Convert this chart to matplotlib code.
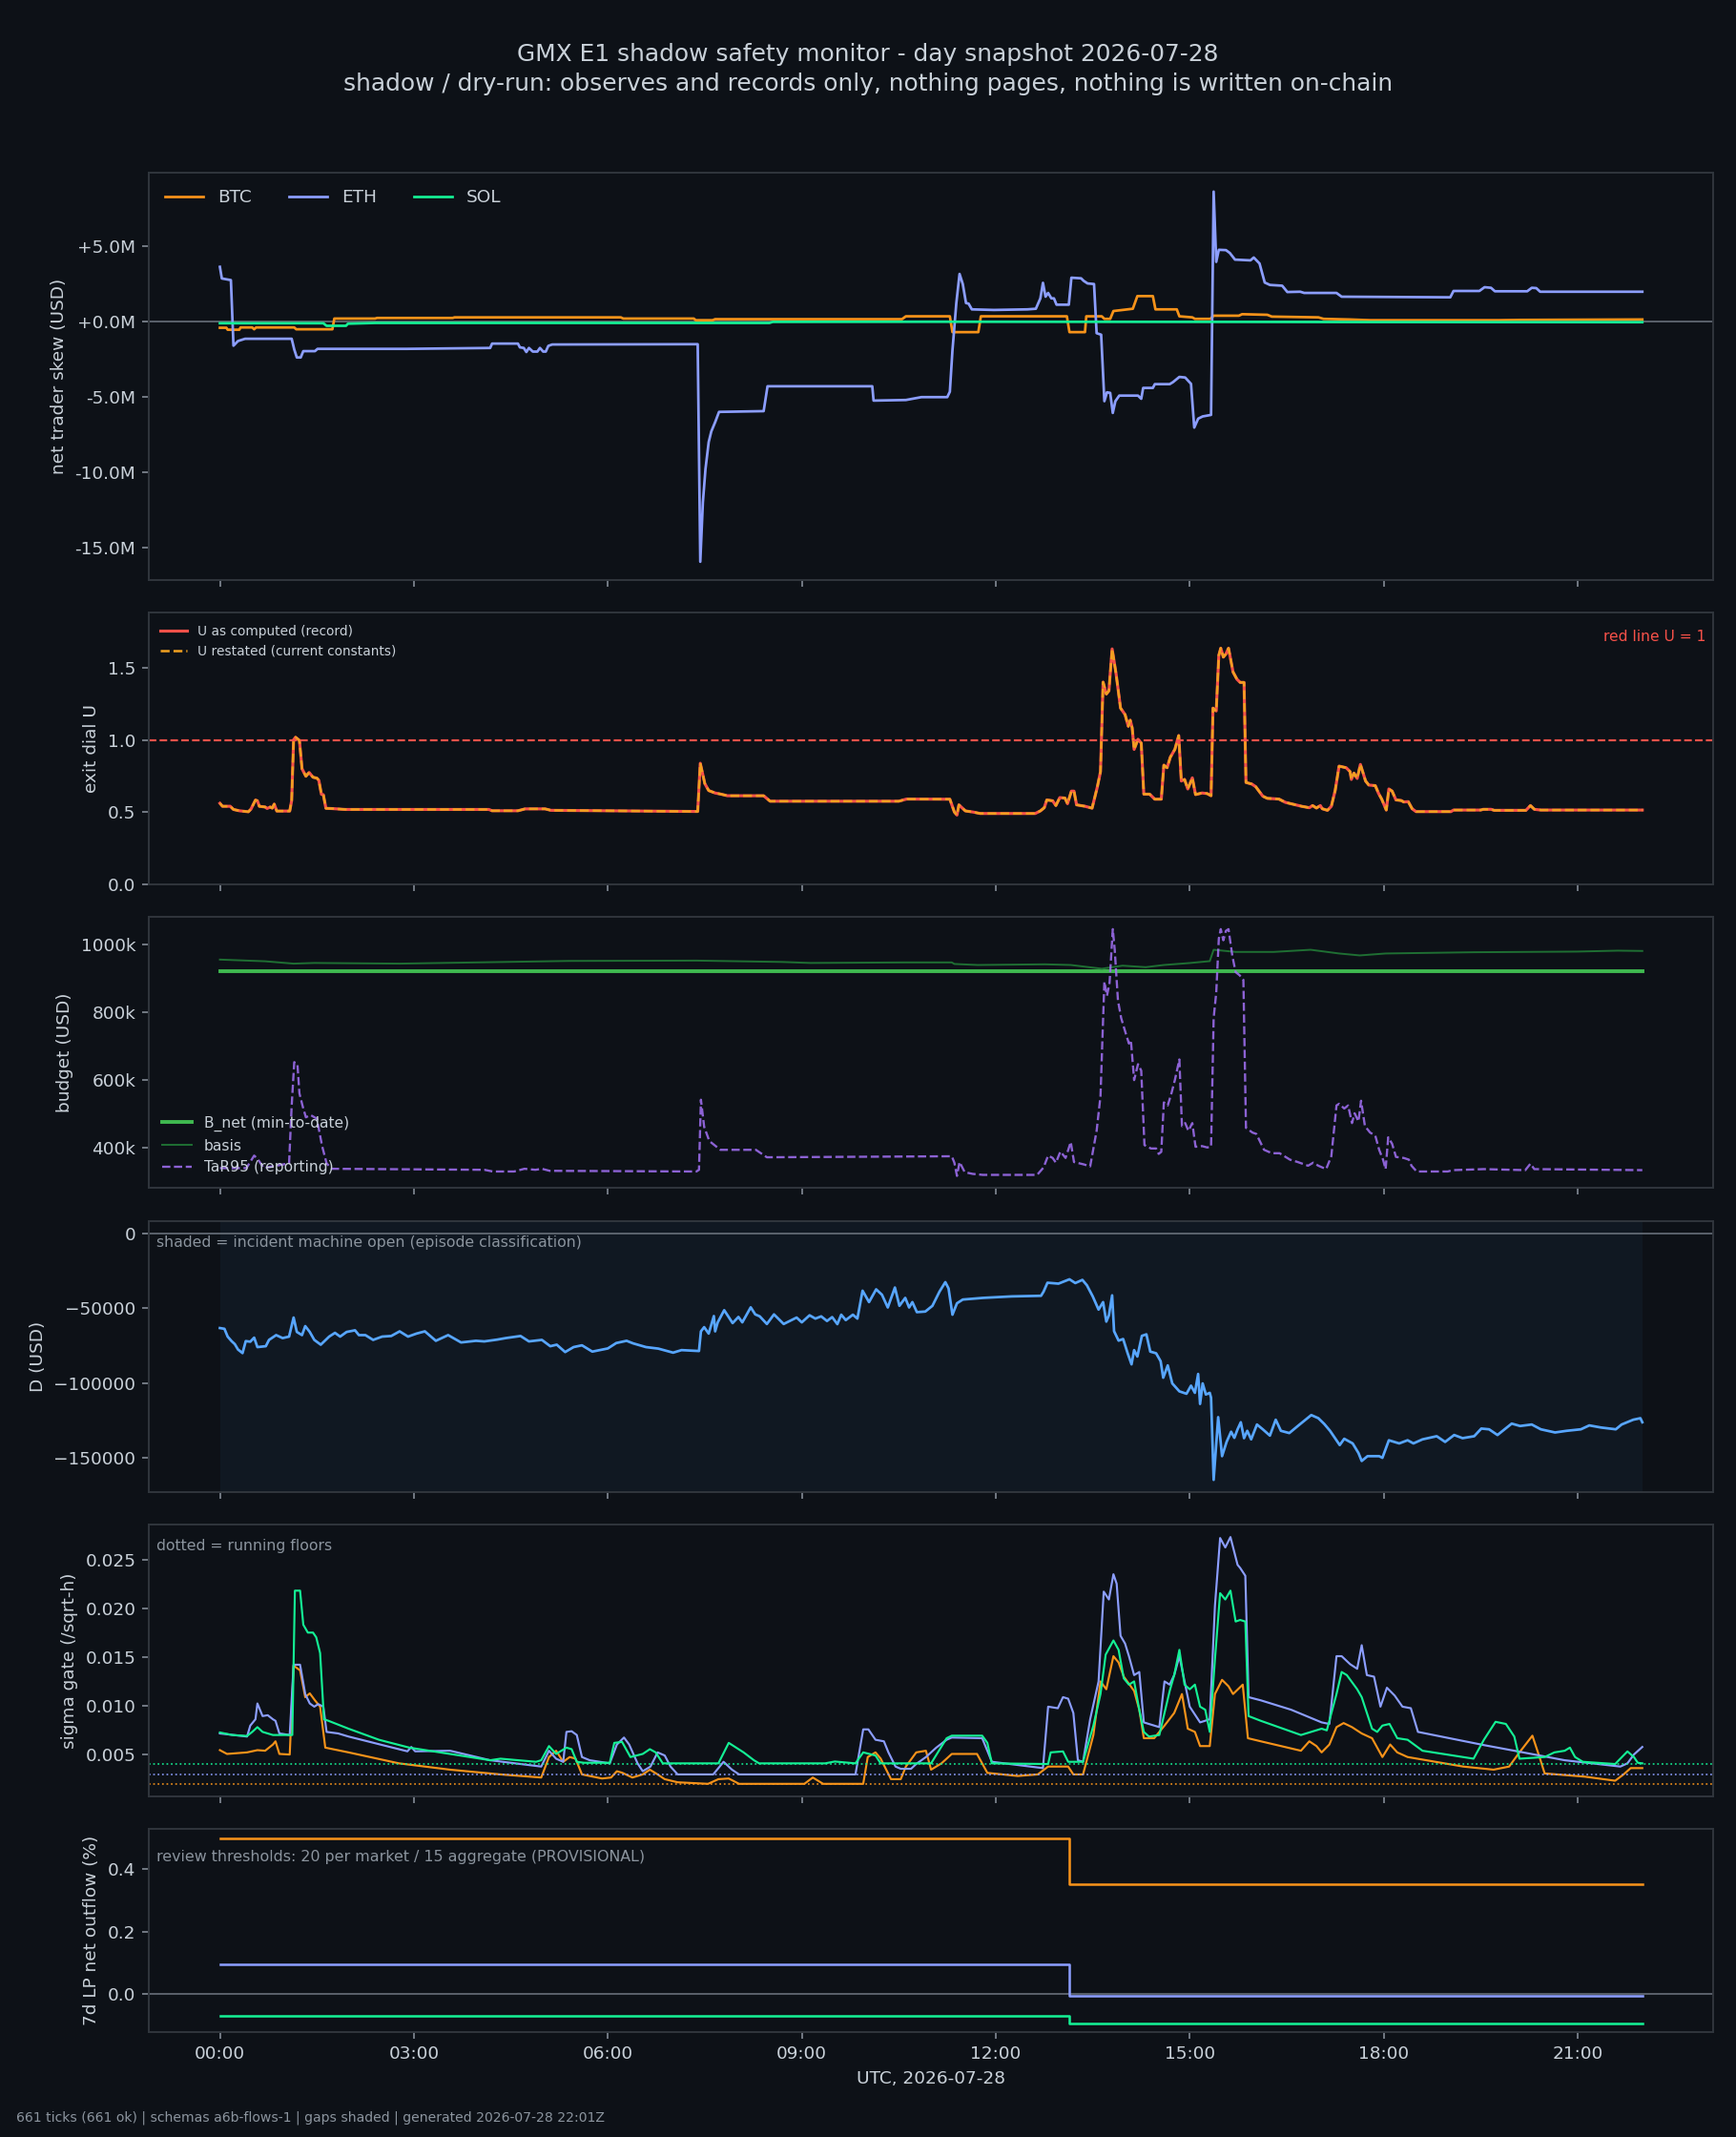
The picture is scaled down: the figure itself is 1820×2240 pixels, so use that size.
import matplotlib
matplotlib.use("Agg")
import matplotlib.pyplot as plt
from matplotlib.ticker import FuncFormatter, MultipleLocator

# colours
BG = "#0d1117"
EDGE = "#30363d"
TXT = "#c9d1d9"
MUTED = "#8b949e"
C_BTC = "#f7931a"
C_ETH = "#8c9eff"
C_SOL = "#14f195"

# ---- data (hours UTC, value) read off the snapshot ----
# panel 1: net trader skew, USD millions
SKEW_BTC = [(0.0,-0.42),(0.10,-0.42),(0.12,-0.55),(0.30,-0.55),(0.32,-0.40),(0.50,-0.40),(0.53,-0.52),
            (0.56,-0.40),(1.15,-0.40),(1.18,-0.52),(1.74,-0.52),(1.77,0.19),(2.40,0.19),(2.43,0.23),
            (3.60,0.23),(3.63,0.27),(6.20,0.27),(6.24,0.19),(7.33,0.19),(7.36,0.08),(7.62,0.08),
            (7.66,0.15),(10.55,0.15),(10.61,0.34),(11.29,0.34),(11.33,-0.71),(11.73,-0.71),(11.77,0.34),
            (13.10,0.34),(13.14,-0.71),(13.38,-0.71),(13.40,0.34),(13.64,0.34),(13.68,0.17),(13.77,0.17),
            (13.82,0.69),(14.12,0.84),(14.19,1.68),(14.43,1.68),(14.47,0.80),(14.80,0.80),(14.84,0.34),
            (15.04,0.27),(15.08,0.17),(15.32,0.17),(15.37,0.38),(15.76,0.38),(15.81,0.48),(16.20,0.44),
            (16.27,0.32),(16.99,0.27),(17.07,0.17),(17.47,0.13),(17.79,0.08),(19.78,0.08),(20.10,0.10),
            (22.0,0.13)]
SKEW_ETH = [(0.00,3.62),(0.03,2.85),(0.17,2.74),(0.21,-1.61),(0.28,-1.30),(0.39,-1.15),(1.11,-1.15),
            (1.15,-1.86),(1.19,-2.39),(1.25,-2.39),(1.29,-1.97),(1.47,-1.97),(1.51,-1.82),(2.89,-1.82),
            (4.18,-1.76),(4.21,-1.47),(4.61,-1.47),(4.64,-1.72),(4.70,-1.76),(4.74,-2.03),(4.78,-1.76),
            (4.84,-2.00),(4.91,-2.00),(4.95,-1.76),(5.00,-2.00),(5.04,-2.00),(5.08,-1.62),(5.14,-1.53),
            (7.39,-1.51),(7.43,-15.94),(7.47,-12.0),(7.51,-9.8),(7.56,-8.0),(7.60,-7.3),(7.66,-6.68),
            (7.72,-6.0),(8.41,-5.95),(8.47,-4.3),(10.09,-4.3),(10.11,-5.25),(10.61,-5.21),(10.85,-5.02),
            (11.25,-5.02),(11.29,-4.66),(11.33,-1.93),(11.39,1.22),(11.44,3.15),(11.49,2.48),(11.54,1.22),
            (11.58,1.18),(11.63,0.80),(11.97,0.76),(12.49,0.80),(12.62,0.84),(12.69,1.53),(12.73,2.56),
            (12.77,1.64),(12.81,1.89),(12.86,1.53),(12.90,1.53),(12.94,1.11),(13.13,1.11),(13.17,2.90),
            (13.32,2.86),(13.36,2.69),(13.42,2.52),(13.52,2.48),(13.56,-0.78),(13.63,-0.88),(13.68,-5.29),
            (13.72,-4.70),(13.77,-4.74),(13.81,-6.07),(13.85,-5.29),(13.91,-4.92),(14.20,-4.92),
            (14.25,-5.13),(14.28,-4.41),(14.43,-4.41),(14.46,-4.16),(14.69,-4.16),(14.74,-4.03),
            (14.84,-3.68),(14.93,-3.72),(15.02,-4.14),(15.07,-7.04),(15.13,-6.45),(15.20,-6.30),
            (15.33,-6.20),(15.37,8.61),(15.41,3.95),(15.45,4.75),(15.56,4.73),(15.62,4.54),(15.70,4.10),
            (15.94,4.05),(15.99,4.24),(16.08,3.84),(16.16,2.58),(16.24,2.42),(16.43,2.37),(16.51,1.95),
            (16.71,1.97),(16.77,1.89),(17.27,1.89),(17.35,1.64),(19.03,1.60),(19.08,2.02),(19.48,2.02),
            (19.56,2.27),(19.66,2.23),(19.72,2.00),(20.22,2.00),(20.29,2.23),(20.36,2.21),(20.42,1.97),
            (22.0,1.97)]
SKEW_SOL = [(0.0,-0.12),(1.60,-0.12),(1.65,-0.29),(1.95,-0.29),(1.98,-0.15),(2.40,-0.10),(8.50,-0.10),
            (8.55,-0.03),(11.0,-0.02),(15.8,-0.03),(17.5,-0.04),(22.0,-0.05)]

# panel 2: exit dial U (record and restated coincide on this day)
U_DIAL = [(0.00,0.561),(0.04,0.540),(0.16,0.540),(0.21,0.518),(0.30,0.509),(0.44,0.502),(0.48,0.520),
          (0.55,0.583),(0.58,0.578),(0.61,0.540),(0.70,0.535),(0.73,0.525),(0.78,0.535),(0.81,0.527),
          (0.84,0.555),(0.88,0.507),(1.08,0.507),(1.11,0.580),(1.14,1.000),(1.17,1.018),(1.23,0.996),
          (1.27,0.800),(1.33,0.748),(1.38,0.774),(1.44,0.741),(1.50,0.735),(1.53,0.720),(1.57,0.623),
          (1.60,0.620),(1.64,0.526),(1.74,0.524),(1.94,0.518),(4.16,0.518),(4.21,0.509),(4.61,0.509),
          (4.72,0.522),(5.03,0.522),(5.12,0.512),(7.39,0.504),(7.43,0.838),(7.50,0.697),(7.56,0.649),
          (7.66,0.632),(7.74,0.625),(7.85,0.613),(8.41,0.613),(8.51,0.575),(10.50,0.575),(10.62,0.590),
          (11.29,0.589),(11.36,0.500),(11.40,0.479),(11.43,0.550),(11.53,0.508),(11.65,0.500),
          (11.76,0.490),(12.61,0.490),(12.69,0.508),(12.75,0.530),(12.79,0.584),(12.88,0.578),
          (12.93,0.545),(12.99,0.600),(13.07,0.597),(13.11,0.558),(13.17,0.645),(13.21,0.645),
          (13.25,0.550),(13.38,0.540),(13.49,0.527),(13.57,0.672),(13.62,0.780),(13.66,1.400),
          (13.71,1.317),(13.75,1.340),(13.80,1.630),(13.86,1.460),(13.93,1.220),(14.00,1.175),
          (14.05,1.094),(14.08,1.136),(14.11,1.083),(14.14,0.934),(14.20,1.004),(14.25,0.978),
          (14.29,0.624),(14.38,0.624),(14.46,0.589),(14.56,0.589),(14.60,0.825),(14.65,0.807),
          (14.70,0.880),(14.77,0.934),(14.83,1.030),(14.87,0.715),(14.92,0.726),(14.97,0.660),
          (15.04,0.737),(15.09,0.621),(15.19,0.632),(15.27,0.628),(15.33,0.613),(15.36,1.220),
          (15.41,1.200),(15.45,1.586),(15.48,1.635),(15.52,1.573),(15.56,1.595),(15.60,1.635),
          (15.67,1.470),(15.73,1.420),(15.78,1.398),(15.84,1.398),(15.87,0.705),(15.96,0.694),
          (16.02,0.676),(16.13,0.610),(16.20,0.595),(16.38,0.590),(16.48,0.567),(16.73,0.540),
          (16.85,0.530),(16.90,0.545),(16.96,0.528),(17.02,0.545),(17.05,0.523),(17.13,0.512),
          (17.19,0.540),(17.25,0.650),(17.31,0.818),(17.42,0.807),(17.48,0.780),(17.50,0.726),
          (17.54,0.770),(17.59,0.733),(17.64,0.830),(17.72,0.715),(17.77,0.687),(17.87,0.683),
          (17.92,0.630),(17.97,0.589),(18.04,0.514),(18.08,0.660),(18.13,0.645),(18.19,0.584),
          (18.27,0.580),(18.31,0.570),(18.38,0.572),(18.44,0.523),(18.50,0.503),(19.04,0.503),
          (19.08,0.514),(19.50,0.514),(19.54,0.519),(19.66,0.519),(19.71,0.512),(20.20,0.512),
          (20.27,0.545),(20.33,0.519),(20.43,0.514),(22.00,0.514)]
U_RED_LINE = 1.0

# panel 3: budget, USD thousands
B_NET = [(0.0,921.5),(22.0,921.5)]
BASIS = [(0.0,956),(0.7,951),(1.14,944),(1.46,946),(2.78,944),(4.09,948),(5.40,952),(7.37,953),
         (8.69,949),(9.13,946),(10.6,947.6),(11.32,947.6),(11.36,943),(11.72,940),(12.76,942),
         (13.16,940),(13.64,929),(13.96,938),(14.32,933.6),(14.60,940),(15.0,945.8),(15.31,951.4),
         (15.37,985),(15.71,978.6),(16.30,978.6),(16.87,985),(17.31,974),(17.63,968.3),(18.03,974),
         (19.39,977.7),(20.99,979.6),(21.62,982.4),(22.0,981.5)]
TAR95 = [(0.0,340),(0.41,340),(0.53,377),(0.58,368),(0.68,340),(0.81,345),(1.07,354),(1.11,523),
         (1.15,653),(1.20,645),(1.23,561),(1.28,523),(1.33,490),(1.40,497),(1.50,486),(1.58,406),
         (1.65,354),(1.73,338),(4.09,335),(4.22,330),(4.55,330),(4.71,338),(4.88,335),(4.98,338),
         (5.10,332),(7.37,330),(7.41,335),(7.44,542),(7.49,462),(7.57,420),(7.74,394),(8.29,394),
         (8.46,372),(11.32,375),(11.36,356),(11.40,317),(11.44,358),(11.52,328),(11.64,323),
         (11.80,320),(12.64,320),(12.74,342),(12.81,377),(12.88,370),(12.93,356),(13.00,389),
         (13.08,370),(13.16,417),(13.21,358),(13.36,351),(13.46,345),(13.56,450),(13.62,553),
         (13.68,891),(13.72,849),(13.76,887),(13.81,1046),(13.84,985),(13.89,835),(13.94,783),
         (14.02,732),(14.06,708),(14.09,718),(14.14,600),(14.20,647),(14.25,628),(14.30,408),
         (14.40,398),(14.48,398),(14.52,382),(14.56,388),(14.60,534),(14.66,525),(14.72,563),
         (14.77,600),(14.84,661),(14.88,464),(14.93,473),(14.98,450),(15.04,473),(15.09,403),
         (15.19,405),(15.27,401),(15.33,403),(15.37,783),(15.41,858),(15.45,1018),(15.48,1046),
         (15.52,1013),(15.56,1041),(15.60,1046),(15.66,966),(15.71,919),(15.77,910),(15.83,896),
         (15.87,459),(15.97,445),(16.03,441),(16.15,394),(16.27,384),(16.39,384),(16.55,365),
         (16.67,358),(16.83,347),(16.91,356),(16.99,347),(17.11,337),(17.19,375),(17.27,525),
         (17.31,530),(17.39,516),(17.45,525),(17.51,473),(17.55,502),(17.61,478),(17.65,539),
         (17.71,464),(17.79,445),(17.87,436),(17.93,394),(17.99,365),(18.03,337),(18.07,431),
         (18.13,412),(18.19,373),(18.31,370),(18.39,365),(18.43,347),(18.51,330),(18.99,330),
         (19.07,334),(19.55,337),(20.19,334),(20.27,353),(20.33,337),(22.0,334)]

# panel 4: D, USD thousands
D_USD = [(0.00,-63.3),(0.07,-63.8),(0.12,-69.0),(0.18,-72.0),(0.23,-74.0),(0.28,-77.6),(0.35,-80.0),
         (0.40,-72.0),(0.47,-72.4),(0.53,-69.7),(0.58,-76.0),(0.71,-75.4),(0.76,-71.2),(0.87,-68.0),
         (0.97,-70.0),(1.07,-69.0),(1.14,-56.3),(1.19,-65.9),(1.27,-68.0),(1.32,-62.0),(1.39,-65.9),
         (1.46,-71.2),(1.56,-74.4),(1.69,-69.0),(1.78,-66.5),(1.86,-69.0),(1.96,-65.9),(2.09,-64.8),
         (2.15,-68.0),(2.25,-68.0),(2.37,-71.2),(2.51,-69.0),(2.65,-68.6),(2.78,-65.5),(2.91,-69.0),
         (3.04,-67.0),(3.17,-65.5),(3.34,-71.8),(3.43,-70.0),(3.53,-68.0),(3.73,-72.9),(3.96,-71.8),
         (4.09,-72.2),(4.29,-71.0),(4.42,-70.0),(4.65,-68.6),(4.78,-72.2),(4.98,-71.2),(5.11,-75.4),
         (5.21,-74.4),(5.34,-79.3),(5.47,-76.0),(5.60,-74.8),(5.76,-79.0),(6.00,-76.9),(6.13,-73.3),
         (6.29,-71.8),(6.39,-73.5),(6.59,-76.0),(6.78,-77.0),(7.01,-79.7),(7.14,-78.0),(7.41,-78.6),
         (7.44,-65.5),(7.49,-62.7),(7.56,-67.0),(7.64,-55.3),(7.66,-65.5),(7.70,-59.5),(7.80,-51.4),
         (7.93,-60.0),(8.02,-55.9),(8.08,-59.5),(8.21,-49.5),(8.28,-54.2),(8.35,-55.5),(8.46,-60.6),
         (8.57,-54.2),(8.72,-60.6),(8.92,-56.3),(9.00,-59.5),(9.12,-54.8),(9.21,-57.0),(9.30,-55.5),
         (9.39,-58.6),(9.47,-56.0),(9.55,-60.7),(9.61,-54.4),(9.68,-58.0),(9.79,-54.4),(9.86,-57.0),
         (9.94,-38.4),(10.04,-46.0),(10.15,-37.5),(10.24,-41.1),(10.33,-49.6),(10.44,-36.3),
         (10.51,-48.5),(10.60,-43.2),(10.66,-49.6),(10.71,-46.0),(10.78,-52.7),(10.91,-52.3),
         (11.02,-48.5),(11.13,-39.0),(11.22,-32.7),(11.27,-36.9),(11.33,-54.4),(11.40,-46.8),
         (11.49,-44.3),(11.80,-43.2),(12.25,-42.2),(12.70,-41.8),(12.74,-39.0),(12.80,-33.1),
         (12.97,-33.7),(13.14,-30.8),(13.23,-33.3),(13.34,-31.2),(13.41,-34.8),(13.50,-42.2),
         (13.59,-51.0),(13.66,-46.0),(13.71,-59.0),(13.75,-54.8),(13.80,-41.5),(13.83,-65.4),
         (13.90,-71.7),(13.97,-70.6),(14.04,-80.1),(14.10,-87.5),(14.14,-78.0),(14.19,-82.3),
         (14.26,-68.5),(14.33,-67.5),(14.39,-79.0),(14.48,-80.1),(14.55,-85.4),(14.59,-96.4),
         (14.66,-88.2),(14.73,-100.2),(14.84,-105.5),(14.95,-107.1),(15.02,-101.7),(15.08,-106.5),
         (15.13,-93.9),(15.16,-113.9),(15.20,-100.2),(15.25,-107.6),(15.31,-106.5),(15.33,-109.7),
         (15.37,-164.5),(15.44,-122.7),(15.50,-148.7),(15.57,-139.2),(15.64,-132.4),(15.69,-136.5),
         (15.74,-130.8),(15.79,-126.1),(15.84,-136.7),(15.89,-131.8),(15.95,-137.5),(16.04,-127.6),
         (16.13,-130.8),(16.24,-135.0),(16.33,-124.4),(16.41,-131.8),(16.54,-133.3),(16.70,-127.6),
         (16.88,-121.3),(16.99,-123.4),(17.08,-127.2),(17.17,-131.8),(17.32,-141.3),(17.39,-137.1),
         (17.52,-140.2),(17.61,-146.6),(17.66,-151.9),(17.75,-148.7),(17.93,-148.7),(17.98,-149.8),
         (18.08,-138.1),(18.24,-140.2),(18.37,-138.1),(18.46,-140.2),(18.60,-137.5),(18.82,-135.4),
         (18.95,-139.2),(19.09,-134.6),(19.22,-136.7),(19.40,-135.4),(19.51,-130.3),(19.63,-130.8),
         (19.76,-134.6),(19.98,-127.0),(20.11,-128.6),(20.29,-127.6),(20.43,-130.8),(20.65,-132.9),
         (20.83,-131.8),(21.05,-130.8),(21.18,-128.2),(21.36,-129.6),(21.59,-130.8),(21.68,-127.6),
         (21.86,-124.4),(21.97,-123.4),(22.00,-126.1)]
INCIDENT_OPEN = (0.0, 22.0)

# panel 5: sigma gate, per sqrt-h, in thousandths
SIG_BTC = [(0.0,5.42),(0.11,5.03),(0.42,5.19),(0.58,5.42),(0.70,5.36),(0.82,6.00),(0.86,6.33),(0.92,5.03),
           (1.08,4.97),(1.14,14.12),(1.24,13.64),(1.32,10.88),(1.39,11.27),(1.47,10.55),(1.55,9.90),
           (1.63,5.68),(1.99,5.19),(2.77,4.06),(3.56,3.41),(4.34,2.92),(4.97,2.60),(5.09,4.71),
           (5.20,5.36),(5.31,4.22),(5.41,4.71),(5.50,4.55),(5.60,2.92),(5.91,2.50),(6.05,2.60),
           (6.14,3.25),(6.22,3.10),(6.38,2.60),(6.54,2.92),(6.65,3.41),(6.77,2.92),(6.88,2.43),
           (7.08,2.11),(7.55,1.95),(7.71,2.43),(7.87,2.50),(8.03,1.95),(9.04,1.95),(9.17,2.60),
           (9.33,1.95),(9.95,1.95),(10.02,4.71),(10.14,5.19),(10.22,4.55),(10.38,2.43),(10.53,2.43),
           (10.61,3.73),(10.77,5.19),(10.92,5.36),(11.00,3.41),(11.16,4.06),(11.32,5.03),(11.71,5.03),
           (11.87,3.08),(12.34,2.76),(12.65,2.92),(12.81,3.73),(13.12,3.73),(13.20,2.92),(13.35,2.92),
           (13.51,6.98),(13.62,12.50),(13.71,11.69),(13.82,15.10),(13.90,14.45),(13.98,12.99),
           (14.14,11.52),(14.22,9.58),(14.29,6.65),(14.45,6.65),(14.61,7.95),(14.76,9.25),(14.88,11.20),
           (14.97,7.63),(15.08,7.30),(15.16,5.84),(15.31,5.84),(15.39,11.20),(15.50,12.66),(15.60,12.00),
           (15.67,11.20),(15.82,12.17),(15.90,6.65),(16.10,6.33),(16.72,5.36),(16.85,6.33),(16.96,5.84),
           (17.04,5.19),(17.16,6.00),(17.27,7.79),(17.38,8.21),(17.51,7.79),(17.66,7.14),(17.82,6.65),
           (17.98,4.71),(18.10,6.00),(18.21,5.19),(18.37,4.71),(19.23,3.73),(19.70,3.41),(19.94,3.73),
           (20.10,5.19),(20.30,6.91),(20.41,4.71),(20.49,3.02),(21.11,2.69),(21.58,2.27),(21.71,2.92),
           (21.82,3.57),(22.0,3.57)]
SIG_ETH = [(0.0,7.14),(0.42,6.82),(0.47,7.95),(0.55,8.60),(0.58,10.23),(0.66,8.93),(0.74,9.02),
           (0.82,8.60),(0.86,8.44),(0.92,7.14),(1.08,6.98),(1.14,14.22),(1.24,14.22),(1.32,11.20),
           (1.39,10.23),(1.46,9.90),(1.52,10.16),(1.60,9.90),(1.65,7.30),(1.83,7.14),(1.99,6.82),
           (2.77,5.52),(2.90,5.30),(2.96,5.75),(3.02,5.30),(3.56,5.36),(4.18,4.38),(4.97,3.73),
           (5.09,5.36),(5.20,4.54),(5.31,4.22),(5.36,7.30),(5.44,7.37),(5.52,6.98),(5.60,4.71),
           (5.72,4.38),(6.03,4.06),(6.14,6.00),(6.25,6.72),(6.33,6.00),(6.46,4.06),(6.54,3.25),
           (6.66,3.73),(6.77,5.19),(6.88,4.87),(6.97,3.73),(7.08,2.92),(7.63,2.92),(7.79,4.22),
           (7.92,3.41),(8.03,2.92),(9.83,2.92),(9.95,7.56),(10.03,7.56),(10.14,6.49),(10.27,6.33),
           (10.34,5.19),(10.45,3.73),(10.53,3.50),(10.69,3.50),(10.77,4.00),(10.92,4.71),(11.08,5.68),
           (11.24,6.49),(11.32,6.72),(11.79,6.65),(11.94,4.22),(12.73,3.57),(12.81,9.90),(12.96,9.74),
           (13.04,10.88),(13.12,10.72),(13.20,9.25),(13.27,4.38),(13.35,4.22),(13.46,8.60),(13.59,12.50),
           (13.67,21.75),(13.75,20.94),(13.82,23.54),(13.87,22.56),(13.93,17.20),(14.00,16.40),
           (14.06,15.10),(14.14,13.15),(14.22,13.47),(14.29,8.28),(14.37,8.12),(14.53,7.79),
           (14.61,12.50),(14.69,12.17),(14.76,13.15),(14.84,15.10),(15.00,9.90),(15.16,8.28),
           (15.31,8.60),(15.39,20.29),(15.47,27.27),(15.55,26.30),(15.63,27.37),(15.74,24.51),
           (15.78,24.19),(15.86,23.38),(15.91,10.88),(16.10,10.55),(16.57,9.58),(17.04,8.28),
           (17.16,8.12),(17.27,15.10),(17.35,15.10),(17.48,14.28),(17.59,13.80),(17.66,16.23),
           (17.74,13.15),(17.85,12.99),(17.95,9.90),(18.05,11.85),(18.17,11.04),(18.29,9.90),
           (18.42,9.74),(18.53,7.30),(19.55,5.94),(20.02,5.36),(20.80,4.38),(21.66,3.73),(21.77,4.06),
           (21.87,4.97),(22.0,5.75)]
SIG_SOL = [(0.0,7.24),(0.19,6.98),(0.42,6.88),(0.50,7.30),(0.58,7.79),(0.66,7.30),(0.82,6.98),(1.12,6.98),
           (1.16,21.85),(1.24,21.85),(1.29,18.34),(1.36,17.53),(1.44,17.53),(1.49,17.04),(1.55,15.42),
           (1.61,8.60),(1.68,8.44),(1.99,7.63),(2.46,6.49),(2.93,5.68),(3.56,5.03),(4.18,4.38),
           (4.34,4.54),(4.89,4.22),(4.97,4.38),(5.09,5.84),(5.20,5.03),(5.36,5.68),(5.44,5.52),
           (5.52,4.22),(5.63,4.12),(6.03,4.12),(6.10,6.17),(6.22,6.27),(6.35,4.71),(6.54,5.03),
           (6.65,5.52),(6.74,5.19),(6.85,4.06),(7.71,4.06),(7.87,6.17),(8.10,5.19),(8.26,4.38),
           (8.34,4.06),(9.36,4.06),(9.51,4.25),(9.83,4.06),(9.95,5.19),(10.14,4.87),(10.22,4.06),
           (11.00,4.06),(11.24,6.65),(11.32,6.91),(11.79,6.91),(11.87,6.17),(11.94,4.06),(12.81,3.99),
           (12.85,5.19),(13.04,5.29),(13.12,4.22),(13.35,4.22),(13.51,7.95),(13.62,11.20),(13.70,15.26),
           (13.82,16.72),(13.90,15.75),(13.98,12.82),(14.06,12.17),(14.14,12.50),(14.22,9.58),
           (14.29,7.30),(14.37,6.82),(14.53,6.98),(14.69,11.52),(14.76,13.15),(14.84,15.75),
           (14.92,12.17),(15.00,11.69),(15.08,12.17),(15.16,9.90),(15.24,9.58),(15.31,7.30),
           (15.39,14.77),(15.47,21.59),(15.55,20.94),(15.63,21.85),(15.71,18.67),(15.78,18.83),
           (15.86,18.67),(15.91,8.93),(16.10,8.44),(16.72,6.98),(17.04,7.63),(17.12,7.46),(17.27,11.20),
           (17.35,13.47),(17.43,13.15),(17.59,11.69),(17.66,10.88),(17.82,7.63),(17.90,7.30),
           (17.98,7.95),(18.09,8.12),(18.21,6.65),(18.37,6.49),(18.60,5.36),(19.39,4.54),(19.55,6.49),
           (19.73,8.34),(19.89,8.12),(20.02,6.82),(20.10,4.54),(20.49,4.71),(20.64,5.19),(20.80,5.36),
           (20.88,5.68),(20.96,4.71),(21.08,4.22),(21.58,3.99),(21.66,4.54),(21.77,5.29),(21.87,4.71),
           (21.93,4.12),(22.0,4.06)]

# panel 6: 7d LP net outflow (%), one step at the 13:08 refresh
FLOW_T = [0.0, 13.13, 22.0]
FLOW_BTC = [0.500, 0.353]
FLOW_ETH = [0.096, -0.005]
FLOW_SOL = [-0.071, -0.093]

HOUR_TICKS = list(range(0, 22, 3))


def unzip(pairs, scale=1.0):
    return [p[0] for p in pairs], [p[1] * scale for p in pairs]


def style(ax):
    ax.set_facecolor(BG)
    for s in ax.spines.values():
        s.set_color(EDGE)
        s.set_linewidth(1.0)
    ax.tick_params(colors=MUTED, labelcolor=TXT, labelsize=9.5, length=3.5, width=0.8)
    ax.yaxis.label.set_color(TXT)
    ax.yaxis.label.set_size(9.5)


fig, axes = plt.subplots(6, 1, figsize=(13, 16), dpi=140, sharex=True,
                         gridspec_kw={"height_ratios": [3, 2, 2, 2, 2, 1.5]})
fig.patch.set_facecolor(BG)
fig.subplots_adjust(left=0.0857, right=0.987, top=0.919, bottom=0.049, hspace=0.115)
for ax in axes:
    style(ax)

fig.text(0.5, 0.9745, "GMX E1 shadow safety monitor - day snapshot 2026-07-28",
         ha="center", va="center", color=TXT, fontsize=12.8)
fig.text(0.5, 0.9605, "shadow / dry-run: observes and records only, nothing pages, nothing is written on-chain",
         ha="center", va="center", color=TXT, fontsize=12.8)

# 1 - skew
ax = axes[0]
ax.axhline(0, color="#6e7681", lw=0.8)
for pairs, c, name in [(SKEW_BTC, C_BTC, "BTC"), (SKEW_ETH, C_ETH, "ETH"), (SKEW_SOL, C_SOL, "SOL")]:
    t, v = unzip(pairs, 1e6)
    ax.plot(t, v, color=c, lw=1.4, label=name)
ax.yaxis.set_major_locator(MultipleLocator(5e6))
ax.yaxis.set_major_formatter(FuncFormatter(lambda v, p: f"{v/1e6:+.1f}M"))
ax.set_ylabel("net trader skew (USD)")
ax.legend(loc="upper left", ncol=3, frameon=False, fontsize=9.5, labelcolor=TXT,
          handlelength=2.2, columnspacing=2.1)

# 2 - exit dial
ax = axes[1]
t, v = unzip(U_DIAL)
ax.plot(t, v, color="#f85149", lw=1.6, label="U as computed (record)")
ax.plot(t, v, color="#f0a020", lw=1.3, ls="--", label="U restated (current constants)")
ax.axhline(U_RED_LINE, color="#f85149", lw=1.1, ls="--")
ax.set_ylim(0, 1.88)
ax.yaxis.set_major_locator(MultipleLocator(0.5))
ax.set_ylabel("exit dial U")
ax.legend(loc="upper left", frameon=False, fontsize=7.1, labelcolor=TXT)
ax.text(0.995, 0.91, "red line U = 1", transform=ax.transAxes, ha="right", va="center",
        color="#f85149", fontsize=8)

# 3 - budget
ax = axes[2]
t, v = unzip(B_NET, 1e3)
ax.plot(t, v, color="#3fb950", lw=2.0, label="B_net (min-to-date)")
t, v = unzip(BASIS, 1e3)
ax.plot(t, v, color="#1f6f33", lw=1.0, label="basis")
t, v = unzip(TAR95, 1e3)
ax.plot(t, v, color="#a371f7", lw=1.2, ls="--", alpha=0.85, label="TaR95 (reporting)")
ax.yaxis.set_major_formatter(FuncFormatter(lambda v, p: f"{v/1e3:.0f}k"))
ax.set_ylabel("budget (USD)")
ax.legend(loc="lower left", frameon=False, fontsize=8, labelcolor=TXT)

# 4 - D
ax = axes[3]
ax.axvspan(*INCIDENT_OPEN, color="#58a6ff", alpha=0.05, lw=0)
ax.axhline(0, color="#6e7681", lw=0.8)
t, v = unzip(D_USD, 1e3)
ax.plot(t, v, color="#58a6ff", lw=1.4)
ax.set_ylabel("D (USD)")
ax.text(0.005, 0.92, "shaded = incident machine open (episode classification)", transform=ax.transAxes,
        ha="left", va="center", color=MUTED, fontsize=8.1)

# 5 - sigma gate
ax = axes[4]
for pairs, c in [(SIG_BTC, C_BTC), (SIG_ETH, C_ETH), (SIG_SOL, C_SOL)]:
    t, v = unzip(pairs, 1e-3)
    ax.plot(t, v, color=c, lw=1.1)
    ax.axhline(min(v), color=c, lw=0.9, ls=":", alpha=0.9)
ax.set_ylabel("sigma gate (/sqrt-h)")
ax.text(0.005, 0.92, "dotted = running floors", transform=ax.transAxes, ha="left", va="center",
        color=MUTED, fontsize=8.1)

# 6 - LP outflow
ax = axes[5]
ax.axhline(0, color="#6e7681", lw=0.8)
for vals, c in [(FLOW_BTC, C_BTC), (FLOW_ETH, C_ETH), (FLOW_SOL, C_SOL)]:
    ax.step(FLOW_T, vals + [vals[-1]], where="post", color=c, lw=1.3)
ax.set_ylabel("7d LP net outflow (%)")
ax.text(0.005, 0.86, "review thresholds: 20 per market / 15 aggregate (PROVISIONAL)", transform=ax.transAxes,
        ha="left", va="center", color=MUTED, fontsize=8.2)
ax.set_xticks(HOUR_TICKS)
ax.set_xticklabels([f"{h:02d}:00" for h in HOUR_TICKS])
ax.set_xlabel("UTC, 2026-07-28", color=TXT, fontsize=9.5)

fig.text(0.0095, 0.006, "661 ticks (661 ok) | schemas a6b-flows-1 | gaps shaded | generated 2026-07-28 22:01Z",
         ha="left", va="bottom", color=MUTED, fontsize=7.2)

fig.savefig("out.png", dpi=140, facecolor=BG)
